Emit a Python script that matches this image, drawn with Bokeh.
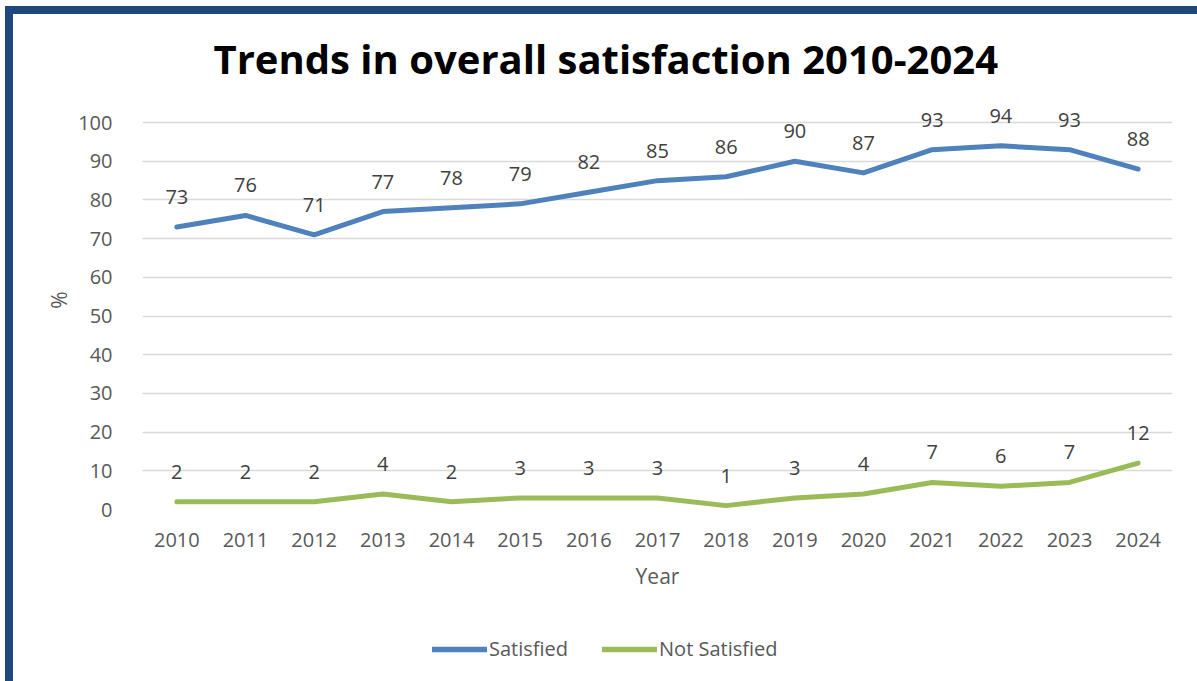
from bokeh.plotting import figure
from bokeh.models import Range1d, FixedTicker, Legend, LegendItem, ColumnDataSource, Title, Column
from bokeh.core.properties import value
from bokeh.embed import file_html
from bokeh.resources import INLINE

years = [2010, 2011, 2012, 2013, 2014, 2015, 2016, 2017, 2018, 2019, 2020, 2021, 2022, 2023, 2024]
satisfied = [73, 76, 71, 77, 78, 79, 82, 85, 86, 90, 87, 93, 94, 93, 88]
not_satisfied = [2, 2, 2, 4, 2, 3, 3, 3, 1, 3, 4, 7, 6, 7, 12]
y_ticks = [0, 10, 20, 30, 40, 50, 60, 70, 80, 90, 100]

FONT = "Open Sans"
TXT = "#595959"
BLUE = "#4F81BD"
GREEN = "#9BBB59"
DX, DY = 13, 14  # border offset
MAIN_H = 591
W = 1197 - DX

p = figure(width=W, height=MAIN_H, output_backend="svg", toolbar_location=None,
           x_range=Range1d(2009.5, 2024.5), y_range=Range1d(0, 108.3),
           min_border_left=142 - DX, min_border_right=25, min_border_top=90 - DY,
           min_border_bottom=MAIN_H - (509 - DY))
p.outline_line_color = None
p.background_fill_color = "white"
p.border_fill_color = "white"

p.title = Title(text="Trends in overall satisfaction 2010-2024", align="left", offset=71,
                text_font=FONT, text_font_size="40px", text_font_style="bold", text_color="black")

p.xaxis.ticker = FixedTicker(ticks=years)
p.yaxis.ticker = FixedTicker(ticks=y_ticks)
for ax in (p.xaxis[0], p.yaxis[0]):
    ax.axis_line_color = None
    ax.major_tick_line_color = None
    ax.minor_tick_line_color = None
    ax.major_label_text_font = FONT
    ax.major_label_text_font_size = "20px"
    ax.major_label_text_color = TXT
    ax.axis_label_text_font = FONT
    ax.axis_label_text_font_size = "21px"
    ax.axis_label_text_color = TXT
    ax.axis_label_text_font_style = "normal"
p.xaxis.axis_label = "Year"
p.yaxis.axis_label = "%"
p.xaxis.major_label_standoff = 17
p.yaxis.major_label_standoff = 24
p.xaxis.axis_label_standoff = 12
p.yaxis.axis_label_standoff = 2

p.xgrid.grid_line_color = None
p.ygrid.grid_line_color = "#D9D9D9"
p.ygrid.grid_line_width = 1.5

src = ColumnDataSource(dict(x=years, s=satisfied, n=not_satisfied,
                            sl=[str(v) for v in satisfied], nl=[str(v) for v in not_satisfied]))

p.line("x", "s", source=src, line_color=BLUE, line_width=5, line_cap="round", line_join="round")
p.line("x", "n", source=src, line_color=GREEN, line_width=5, line_cap="round", line_join="round")

p.text("x", "s", text="sl", source=src, y_offset=-30, text_align="center", text_baseline="middle",
       text_font=value(FONT), text_font_size="20px", text_color="#404040")
p.text("x", "n", text="nl", source=src, y_offset=-30, text_align="center", text_baseline="middle",
       text_font=value(FONT), text_font_size="20px", text_color="#404040")

# legend strip below the chart
LEG_H = 681 - DY - MAIN_H
pl = figure(width=W, height=LEG_H, output_backend="svg", toolbar_location=None,
            x_range=Range1d(0, 1), y_range=Range1d(0, 1), x_axis_type=None, y_axis_type=None,
            min_border=0)
pl.outline_line_color = None
pl.grid.grid_line_color = None
l1 = pl.line("x", "s", source=src, line_color=BLUE, line_width=5.5, line_cap="round")
l2 = pl.line("x", "n", source=src, line_color=GREEN, line_width=5.5, line_cap="round")
legend = Legend(items=[LegendItem(label="Satisfied", renderers=[l1]),
                       LegendItem(label="Not Satisfied", renderers=[l2])],
                orientation="horizontal", location=(290, LEG_H - 42 - 15),
                label_text_font=FONT, label_text_font_size="20px", label_text_color=TXT,
                glyph_width=55, glyph_height=20, label_standoff=2, spacing=34,
                border_line_color=None, background_fill_alpha=0, padding=5, margin=0)
pl.add_layout(legend, "center")

root = Column(children=[p, pl], spacing=0,
              styles={"border-top": "8px solid #1F497D", "border-left": "8px solid #1F497D",
                      "margin-left": "5px", "margin-top": "6px"})

open("out.html", "w").write(file_html(root, INLINE))
